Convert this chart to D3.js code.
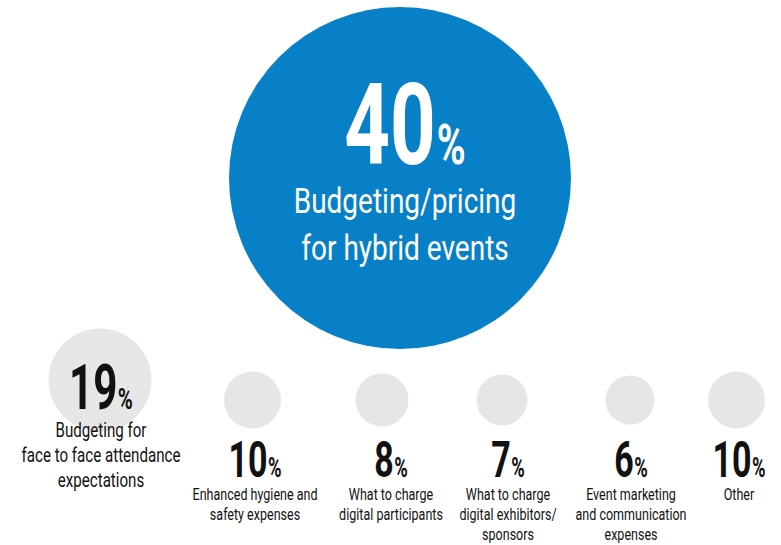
<!DOCTYPE html>
<html>
<head>
<meta charset="utf-8">
<script src="https://cdn.jsdelivr.net/npm/d3@7"></script>
<style>
	body { margin: 0; background: #fff; }
	svg { display: block; }
	text { font-family: Roboto, "Liberation Sans", sans-serif; }
</style>
</head>
<body>
<script>
"use strict";

// Chart data
const categories = [
	"Budgeting/pricing for hybrid events",
	"Budgeting for face to face attendance expectations",
	"Enhanced hygiene and safety expenses",
	"What to charge digital participants",
	"What to charge digital exhibitors/sponsors",
	"Event marketing and communication expenses",
	"Other"
];

const values = [40, 19, 10, 8, 7, 6, 10];

const labelLines = [
	["Budgeting/pricing", "for hybrid events"],
	["Budgeting for", "face to face attendance", "expectations"],
	["Enhanced hygiene and", "safety expenses"],
	["What to charge", "digital participants"],
	["What to charge", "digital exhibitors/", "sponsors"],
	["Event marketing", "and communication", "expenses"],
	["Other"]
];

const tiers = ["main", "second", "minor", "minor", "minor", "minor", "minor"];

// Layout
const width = 781,
	height = 545;

// text style for each tier
const tierStyle = {
	main: 	{ numSize: 114, pctSize: 56, numY: 164, labSize: 35, labY: 213, lineH: 47, fill: "#fff", numSx: 0.70, labSx: 0.80 },
	second: { numSize: 62, pctSize: 30, numY: 409, labSize: 21, labY: 437, lineH: 25, fill: "#111", numSx: 0.68, labSx: 0.72 },
	minor: 	{ numSize: 50, pctSize: 27, numY: 477, labSize: 16.5, labY: 500, lineH: 20, fill: "#111", numSx: 0.68, labSx: 0.76 }
};

const rScale = d3.scaleLinear()
	.domain([6, 10, 19, 40])
	.range([24.5, 28.5, 51.5, 171]);

const cxScale = d3.scaleOrdinal()
	.domain(categories)
	.range([400, 100, 252.5, 382, 502, 630, 736.5]);

const cyScale = d3.scaleOrdinal()
	.domain(categories)
	.range([178, 380, 400, 400, 400, 400, 400]);

const textX = d3.scaleOrdinal()
	.domain(categories)
	.range([405, 101, 255, 391, 508, 631, 739]);

const colorScale = d3.scaleOrdinal()
	.domain(["main", "second", "minor"])
	.range(["#0880c8", "#e6e6e6", "#e6e6e6"]);

let data = categories.map(function (c, i) {
	return { cat: c, value: values[i], lines: labelLines[i], tier: tiers[i] };
});

let svg = d3.select("body")
	.append("svg")
		.attr("width", width)
		.attr("height", height);

// circles
svg.selectAll(".bubble")
	.data(data)
	.enter()
	.append("circle")
		.classed("bubble", true)
		.attr("cx", function (d) { return cxScale(d.cat); })
		.attr("cy", function (d) { return cyScale(d.cat); })
		.attr("r", function (d) { return rScale(d.value); })
		.style("fill", function (d) { return colorScale(d.tier); });

// numbers and labels
let groups = svg.selectAll(".item")
	.data(data)
	.enter()
	.append("g")
		.classed("item", true);

groups.each(function (d) {

	let g = d3.select(this),
		st = tierStyle[d.tier],
		x = textX(d.cat);

	let num = g.append("text")
		.attr("transform", "translate(" + x + "," + st.numY + ") scale(" + st.numSx + ",1)")
		.attr("text-anchor", "middle")
		.style("font-weight", 700)
		.style("font-size", st.numSize + "px")
		.style("fill", st.fill);

	num.append("tspan").text(d.value);
	num.append("tspan")
		.attr("dx", st.numSize * 0.01)
		.style("font-size", st.pctSize + "px")
		.text("%");

	d.lines.forEach(function (line, i) {
		g.append("text")
			.attr("transform", "translate(" + x + "," + (st.labY + i * st.lineH) + ") scale(" + st.labSx + ",1)")
			.attr("text-anchor", "middle")
			.style("font-weight", 400)
			.style("font-size", st.labSize + "px")
			.style("fill", st.fill)
			.text(line);
	});
});
</script>
</body>
</html>
